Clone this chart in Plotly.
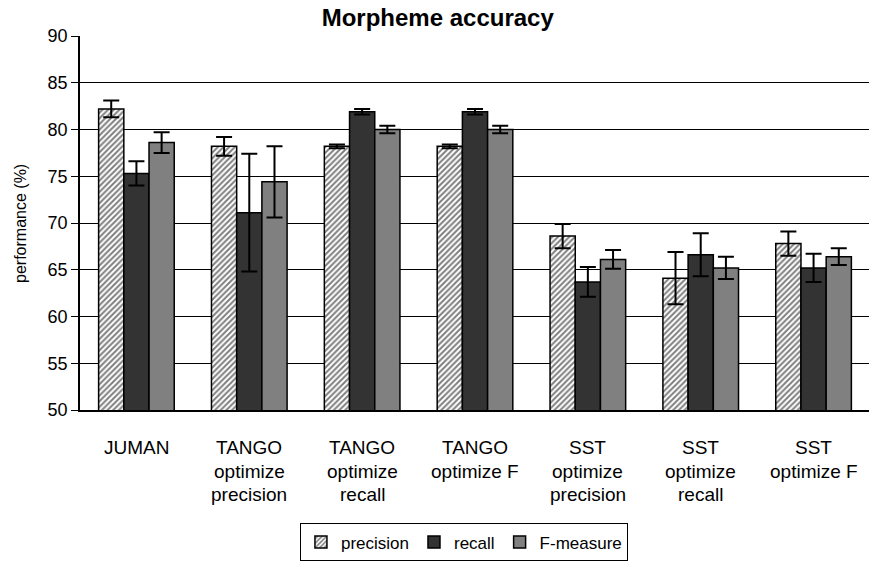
import plotly.graph_objects as go

categories = ["JUMAN", "TANGO<br>optimize<br>precision", "TANGO<br>optimize<br>recall",
              "TANGO<br>optimize F", "SST<br>optimize<br>precision", "SST<br>optimize<br>recall",
              "SST<br>optimize F"]
cat_keys = ["c0", "c1", "c2", "c3", "c4", "c5", "c6"]

precision = [82.2, 78.2, 78.2, 78.2, 68.6, 64.1, 67.8]
precision_err = [0.9, 1.0, 0.2, 0.2, 1.3, 2.8, 1.3]
recall = [75.3, 71.1, 81.9, 81.9, 63.7, 66.6, 65.2]
recall_err = [1.3, 6.3, 0.3, 0.3, 1.6, 2.3, 1.5]
fmeasure = [78.6, 74.4, 80.0, 80.0, 66.1, 65.2, 66.4]
fmeasure_err = [1.1, 3.8, 0.4, 0.4, 1.0, 1.2, 0.9]

FONT = "Liberation Sans, Arial, sans-serif"


def _bar(name, values, errors, color, pattern=None):
    return go.Bar(
        name=name, x=cat_keys, y=values,
        marker=dict(color=color, line=dict(color="black", width=1.5),
                    pattern=pattern),
        error_y=dict(type="data", array=errors, color="black", thickness=2, width=8),
    )


fig = go.Figure()
fig.add_trace(_bar("precision", precision, precision_err, "white",
                   dict(shape="/", fgcolor="black", bgcolor="white", size=4, solidity=0.5)))
fig.add_trace(_bar("recall", recall, recall_err, "#333333"))
fig.add_trace(_bar("F-measure", fmeasure, fmeasure_err, "#808080"))

# multi-line category labels as annotations (for wider line spacing)
for key, label in zip(cat_keys, categories):
    for i, line in enumerate(label.split("<br>")):
        fig.add_annotation(x=key, xref="x", y=-0.1 - i * 0.0635, yref="paper",
                           text=line, showarrow=False, yanchor="middle",
                           font=dict(family=FONT, size=19, color="black"))

# y axis title placed by hand
fig.add_annotation(x=-0.076, xref="paper", y=0.5, yref="paper", text="performance (%)",
                   textangle=-90, showarrow=False, xanchor="center", yanchor="middle",
                   font=dict(family=FONT, size=16, color="black"))

fig.update_layout(
    width=877, height=565,
    paper_bgcolor="white", plot_bgcolor="white",
    margin=dict(l=72, r=15, t=28, b=159),
    barmode="group", bargap=0.33, bargroupgap=0,
    title=dict(text="<b>Morpheme accuracy</b>", x=0.49, xanchor="center", y=0.998, yanchor="top",
               font=dict(family=FONT, size=24, color="black")),
    font=dict(family=FONT, size=18, color="black"),
    legend=dict(orientation="h", x=0.486, xanchor="center", y=-0.354, yanchor="middle",
                bordercolor="black", borderwidth=1, font=dict(size=17),
                itemwidth=30, tracegroupgap=0),
)
fig.update_yaxes(range=[50, 90], dtick=5, showgrid=True, gridcolor="black", gridwidth=1,
                 showline=True, linecolor="black", linewidth=1.5, ticks="outside", ticklen=7,
                 tickcolor="black", tickfont=dict(size=18), zeroline=False, automargin=False)
fig.update_xaxes(showline=True, linecolor="black", linewidth=1.5, showticklabels=False,
                 ticks="", automargin=False)

fig.write_html("out.html")
